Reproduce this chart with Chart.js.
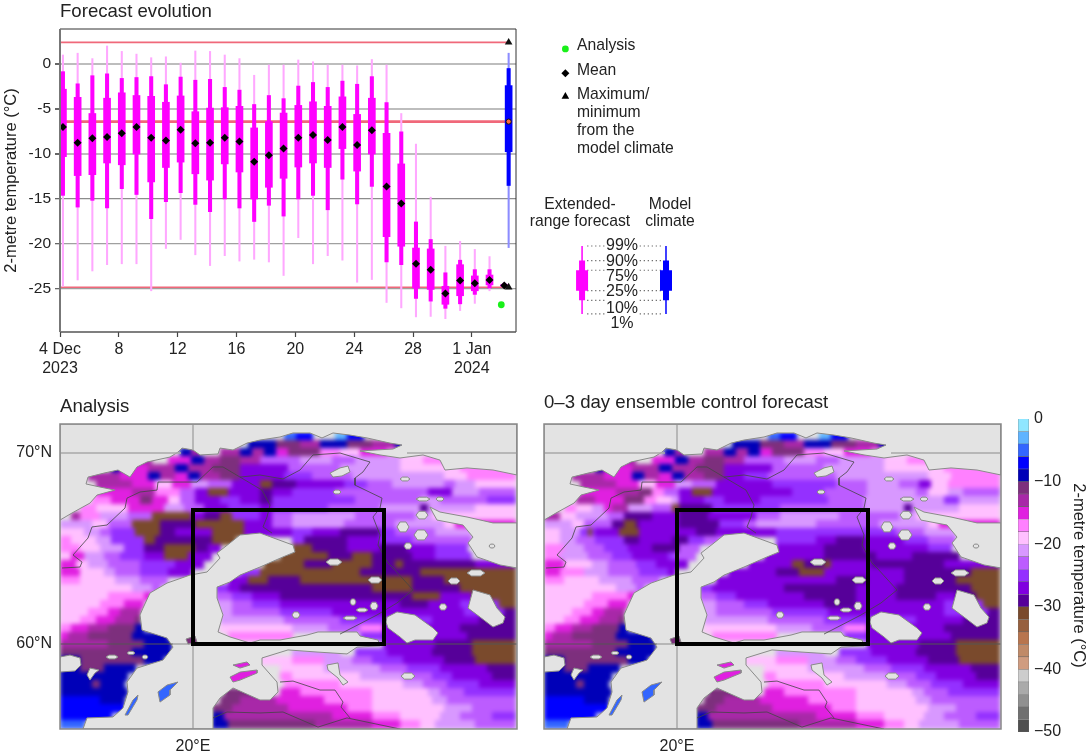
<!DOCTYPE html>
<html lang="en">
<head>
<meta charset="UTF-8">
<title>Forecast evolution</title>
<script src="https://cdn.jsdelivr.net/npm/chart.js"></script>
<style>
  body { margin: 0; background: #fff; width: 1090px; height: 755px; overflow: hidden; position: relative;
         font-family: "Liberation Sans", sans-serif; color: #222; }
  canvas { position: absolute; }
  .t { position: absolute; white-space: nowrap; line-height: 20px; font-size: 15.7px; }
  .h { font-size: 18.6px; }
  .c { transform: translateX(-50%); text-align: center; }
  .p { font-size: 16px; }
</style>
</head>
<body>
<canvas id="evolution" width="530" height="385" style="left:0;top:0"></canvas>
<canvas id="legendKey" width="190" height="300" style="left:540px;top:30px"></canvas>
<canvas id="analysisMap" width="530" height="340" style="left:0;top:415px"></canvas>
<canvas id="controlMap" width="530" height="340" style="left:484px;top:415px"></canvas>
<canvas id="colourBar" width="90" height="345" style="left:1000px;top:405px"></canvas>

<div class="t h" style="left:60px;top:1px">Forecast evolution</div>
<div class="t h" style="left:60px;top:396px">Analysis</div>
<div class="t h" style="left:544px;top:392px">0–3 day ensemble control forecast</div>

<div class="t" style="left:577px;top:35px">Analysis</div>
<div class="t" style="left:577px;top:60px">Mean</div>
<div class="t" style="left:577px;top:84px">Maximum/</div>
<div class="t" style="left:577px;top:102px">minimum</div>
<div class="t" style="left:577px;top:120px">from the</div>
<div class="t" style="left:577px;top:138px">model climate</div>
<div class="t c" style="left:580px;top:194px">Extended-</div>
<div class="t c" style="left:580px;top:211px">range forecast</div>
<div class="t c" style="left:670px;top:194px">Model</div>
<div class="t c" style="left:670px;top:211px">climate</div>
<div class="t c p" style="left:622px;top:235px">99%</div>
<div class="t c p" style="left:622px;top:251px">90%</div>
<div class="t c p" style="left:622px;top:266px">75%</div>
<div class="t c p" style="left:622px;top:281px">25%</div>
<div class="t c p" style="left:622px;top:298px">10%</div>
<div class="t c p" style="left:622px;top:313px">1%</div>

<script>
// forecast evolution: one value per day from 4 Dec 2023, percentiles in degC
const p99  = [1.0, 1.2, 0.6, 2.0, 1.4, 1.1, 0.7, 0.8, 0.1, 1.45, 1.4, 1.0, 0.6, -1.25, 0, 0, 0.45, 0.25, 0, 0, -0.2, 0.5, 0, -5.5, -8.9, -14.8, -20.25, -19.7, -20.6, -21.4, -24.25];
const p90  = [-0.85, -2.2, -1.3, -1.1, -1.6, -1.5, -1.4, -2.3, -1.45, -1.8, -1.7, -2.6, -2.9, -4.5, -3.5, -3.85, -2.45, -2.05, -2.6, -1.9, -2.25, -1.4, -4.3, -7.55, -17.55, -19.5, -23.2, -21.8, -22.85, -22.85, -24.4];
const p75  = [-2.8, -3.7, -5.5, -3.8, -3.2, -3.5, -3.6, -4.25, -3.55, -5.3, -4.9, -4.85, -4.7, -7.1, -6.4, -5.45, -4.6, -4.2, -4.7, -3.65, -5.6, -3.8, -7.7, -11.1, -20.45, -20.55, -24.7, -22.3, -23.55, -23.45, -24.5];
const p25  = [-10.3, -12.4, -12.3, -11, -11.2, -10, -13.1, -11.5, -10.9, -12.2, -12.9, -11.1, -12, -15, -13.7, -12.7, -11.45, -11, -11.5, -9.4, -11.9, -10, -19.2, -20.25, -24.9, -25.05, -26.7, -25.75, -25.2, -24.55, -24.7];
const p10  = [-14.6, -15.9, -15.15, -16, -13.85, -14.5, -17.2, -15.3, -14.3, -15.6, -16.4, -15, -16, -17.5, -15.7, -16.9, -15, -14.6, -16.2, -12.8, -15.55, -13.6, -22, -22.3, -26.05, -26.35, -27.15, -26.65, -25.6, -24.9, -24.8];
const p01  = [-24.7, -24, -23, -22.3, -22.2, -22.2, -25.2, -20.5, -19.5, -21.2, -22.4, -21.3, -21.9, -21.7, -22, -23.5, -19.3, -22.2, -21.3, -21.8, -24.25, -23.95, -26.5, -27.1, -28.1, -28.05, -28.3, -27.4, -26.6, -25.2, -24.9];
const meanTemp = [-7, -8.75, -8.25, -8.1, -7.7, -7, -8.2, -8.5, -7.3, -8.8, -8.75, -8.2, -8.6, -10.85, -10.15, -9.4, -8.2, -7.9, -8.45, -7, -9, -7.35, -13.6, -15.5, -22.2, -22.85, -25.5, -24.05, -24.35, -24, -24.6];
const climate = { p99: 1.2, p90: -0.5, p75: -2.4, p25: -9.75, p10: -13.5, p01: -20.4 };
const climateMean = -6.4, climateMax = 2.4, climateMin = -24.8;
const analysisValue = -26.75;
const dayTicks = [0, 4, 8, 12, 16, 20, 24, 28];
const dayLabels = [['4 Dec', '2023'], '8', '12', '16', '20', '24', '28', ['1 Jan', '2024']];
const tempTicks = [0, -5, -10, -15, -20, -25];

// colour bands of the maps, 2 degC wide from 0 down to -50
const bandColours = ['#8fe6ff', '#5fb4ff', '#3366ff', '#0000ff', '#0000b8', '#7d2f7d', '#a828a8', '#e020e0', '#ff80ff', '#ffc0ff',
  '#d898ff', '#bc5cff', '#9430ff', '#8000e0', '#560099', '#7a4a2c', '#97603e', '#b8754e', '#c08a68', '#d09c80',
  '#cdcdcd', '#aaaaaa', '#909090', '#707070', '#505050'];
const bandCodes = 'abcdefghijklmnopqrstuvwxy';
const barTicks = [0, -10, -20, -30, -40, -50];

// map field, run length coded per row from 71.52N down, a-y = band, . = no land value
const analysisRows = [
  '114.',
  '56. 3c 4d 6. 3b 4d 38.',
  '47. 3e 4e 6f 5g 7e 6f 6g 7e 23.',
  '30. 3e 2g 5. 5g 3e 3g 3e 3h 8f 5i 5j 7h 4i 28.',
  '19. 4g 4. 6h 3e 4g 5f 5g 10l 8k 6l 11k 6j 5i 18.',
  '13. 2e 7h 7g 3e 6g 7f 5n 7n 13l 15k 15j 14i',
  '7. 8g 7h 3e 4g 3h 3e 5g 5f 5n 6n 7m 10l 23k 6j 12i',
  '9. 9g 6h 4j 5h 4k 6l 7n 3p 6o 12n 6m 6l 13k 3l 5k 10j',
  '9. 9h 6g 6i 4l 3n 5p 8n 3o 5n 11m 23l 6n 7k 9l',
  '8. 5i 7h 3f 4h 3j 4l 6n 5m 5n 3o 21m 16l 5k 12l 7m',
  '5. 4i 8j 9h 5k 5l 6n 8m 3n 14m 13l 10k 2o 12k 10j',
  '3. 2g 5i 7k 6l 10p 3n 4o 3p 7m 3n 5l 16k 15l 4k 7j 14j',
  '8k 4j 6l 7p 9o 12p 4n 3n 5l 13k 13l 12k 3j 15h',
  '6j 4k 3l 6m 6p 4o 9n 8p 4n 8n 5m 7n 10o 4m 10l 9k 11.',
  '3i 6j 4k 8m 3p 14o 6p 14. 3m 11o 8n 8m 15l 11.',
  '5i 5j 6k 5m 5o 8p 3o 3n 18. 5p 9o 8n 7o 7n 8m 12.',
  '3j 3h 5k 4l 6m 5n 6p 6n 17. 12p 6o 5p 10o 6n 9m 11.',
  '4h 3j 5k 8l 9m 7n 15. 10p 7o 10p 6o 2p 18o 10n',
  '5h 6j 3k 6l 7m 6n 12. 5m 25p 15o 24p',
  '5i 9j 6k 7l 15. 5n 5p 8o 28p 8o 18p',
  '18j 5k 2l 14. 3m 3n 33o 10p 12o 14p',
  '12j 9i 2h 16. 4l 5m 7n 33o 7p 8n 11p',
  '10j 6i 5h 18. 4k 5l 7m 30n 7o 8n 10m 4p',
  '7j 5i 3h 5g 20. 3k 12l 13m 33n 10m 3o',
  '5j 4i 5h 5g 1f 20. 16k 14l 23m 12n 9o',
  '3i 4h 5g 7f 2e 19. 18j 9k 8l 6i 19n 14o',
  '2h 5g 11f 9e 15. 16i 17. 6m 21n 12o',
  '12g 9f 7e 53. 13n 9o 11p',
  '18f 10e 30. 12k 4. 8m 11n 10o 11p',
  '5e 16f 5e 24. 8j 8i 7k 5l 8m 10n 8o 10p',
  '5e 6f 8e 36. 11j 14k 7l 8m 12n 7o',
  '17e 38. 3i 17j 11k 7l 5m 10n 6o',
  '8e 2f 6e 40. 14i 16j 5k 6l 8m 9n',
  '17e 24. 9f 2g 3. 5h 18i 14j 3k 6l 13m',
  '10d 6e 24. 5f 9g 12h 12i 15j 4k 17l',
  '16d 22. 5f 14g 15h 6i 18j 7k 11l',
  '13d 25. 3e 27g 10h 7i 10j 5k 8l 6m',
  '6c 32. 4e 22f 14g 7h 5i 4j 10k 10l'
];
const controlRows = [
  '114.',
  '56. 3c 4d 6. 3b 4d 38.',
  '47. 3e 4e 6f 5g 7e 6f 6g 7e 23.',
  '30. 3e 2g 5. 5g 3e 3g 3e 3h 8f 5i 5j 7h 4i 28.',
  '19. 4g 4. 6h 3e 4g 5f 5g 10l 8k 6l 11k 6j 5i 18.',
  '13. 2e 7h 7g 3e 6g 7f 5n 7n 13l 15k 15j 14i',
  '7. 8g 7h 3e 4g 3h 3e 5g 5f 5n 6m 7l 10l 23k 6j 12i',
  '9. 9g 6h 4j 5h 4k 6l 7n 7n 16m 8l 8k 5l 3n 4j 13i',
  '9. 9h 6g 3f 3i 4l 3n 5p 8n 12n 8m 11l 12k 3l 5j 4k 9l',
  '8. 5g 7h 5f 3i 4j 2k 6n 5m 5n 4n 17m 9l 20k 4m 10k',
  '5. 3i 4j 3k 2h 4g 6k 5l 2p 8o 8m 9m 21l 10k 2o 12k 10j',
  '4g 4j 8k 4l 7o 7n 7o 12n 6l 15k 15l 4k 7j 14j',
  '7k 3j 7l 3o 3p 1o 10n 10o 6m 3l 15k 16l 12k 3j 15h',
  '4j 5k 2m 1p 1m 6n 5p 14n 5o 15n 7m 15m 8m 7l 8k 11.',
  '4j 4k 5l 7m 4o 8n 4o 4m 4l 14. 10m 5n 7o 10n 6m 7l 11.',
  '5i 5k 5l 6m 6n 7o 5l 19. 4n 8n 10o 16n 6m 12.',
  '4i 7k 6l 5m 9n 2m 5l 17. 3n 12n 13o 9n 12o 10.',
  '5h 7j 4k 7l 5m 8n 15. 7n 4n 3p 5o 2p 10n 18o 14n',
  '4h 6i 6k 8l 7m 2n 13. 12n 6o 6p 11n 9n 17o 7p',
  '5i 9j 8k 7l 14. 22n 8n 8o 9n 13o 11p',
  '18j 5k 2l 14. 3m 18n 18o 10n 19o 7p',
  '12j 9i 2h 16. 4l 5m 17n 13o 10n 10o 5n 5o 6p',
  '10j 6i 5h 18. 4k 7l 6m 14n 8o 22n 10m 4p',
  '7j 5i 3h 5g 20. 3k 14l 14m 29n 11m 3o'
].concat(analysisRows.slice(24));

// coast and lakes as lon,lat pairs
const northSea = [13.35,71.52, 36.2,71.52, 36.2,68.85, 35,69.11, 33.7,69.22, 32.6,69.11, 32.35,69.63, 31.5,69.9, 30.35,69.74, 29.35,69.9, 28.35,70.11, 30,70.21, 30.45,70.42, 29.85,70.52, 28.7,70.79, 27.85,70.94, 27,71.05, 26.45,70.79, 25.85,71.05, 25,71.05, 24.35,70.84, 23.35,70.68, 22.7,70.52, 22,70.16, 21.35,70.26, 21.25,69.95, 20.35,69.9, 20,70.16, 19.45,70.26, 19.25,70.05, 18.85,69.79, 17.7,69.53, 17.2,69.27, 16.85,68.74, 16.25,69.11, 15.55,68.95, 14.75,68.74, 14.65,68.38, 15.35,68.22, 16.1,68.06, 15.2,67.8, 14.85,67.38, 13.95,66.86, 13.35,66.49];
const whiteSea = [36.2,66.34, 35,66.34, 33.7,66.65, 32.35,66.91, 31.85,67.17, 32,66.86, 32.2,66.49, 33.5,66.23, 34,65.6, 33.75,65.29, 34.2,64.56, 35.35,64.14, 36.2,63.98];
const baltic = [23.35,65.81, 22.35,65.71, 21.85,65.29, 21.2,64.76, 21.35,64.5, 20.7,63.77, 19.85,63.61, 18.7,63.19, 17.85,62.67, 17.5,61.88, 17.35,61.52, 17.45,60.73, 18.7,60.31, 19,59.84, 18.5,59.16, 17.2,58.74, 16.7,58.01, 16.75,57.49, 16.5,56.65, 16,56.18, 14.7,56.13, 14.5,55.55, 21,55.55, 21,56.65, 21.35,57.17, 22,57.7, 23.35,57.07, 23.85,57.07, 24.25,57.49, 24.2,58.01, 23.45,58.9, 23.45,59.27, 24.75,59.69, 26.2,59.58, 27.7,59.48, 28.2,59.84, 29.35,59.9, 29.25,60.21, 28.35,60.42, 28.2,60.63, 26.25,60.63, 25.7,60.47, 24.35,60.21, 23.35,60.21, 22.85,60.05, 21.85,60.37, 21.25,60.63, 21.5,61.52, 21.2,62.41, 21.2,62.98, 21.85,63.25, 22.35,63.61, 23.35,64.03, 24.5,64.56, 25.1,64.82, 25,65.18];
const bigLakes = [
  [29.7,61.41, 30.2,61.68, 31.1,61.52, 32,60.84, 32.25,60.58, 32,60.21, 31.1,60.21, 30.7,60.05, 30.35,60.37, 29.75,60.84, 29.65,61.15],
  [33.75,61.88, 34,62.83, 34.85,62.57, 35.2,61.88, 35.6,61.41, 35.5,61.1, 35,60.89, 34.35,61.41],
  [13.35,59.32, 13.85,59.42, 14.35,59.27, 14.4,58.9, 14.1,58.59, 13.35,58.53],
  [14.7,58.38, 14.85,58.74, 15.3,58.64, 15.1,58.48, 14.85,58.11],
  [26.85,68.95, 27.35,69.22, 27.75,69.32, 27.85,69.01, 27.45,68.8, 27,68.74],
  [26.7,58.9, 27.25,59.01, 27.35,58.38, 27.75,58.01, 27.5,57.85, 27.25,58.22, 26.75,58.64]
];
// centre lon, centre lat, half width, half height
const smallLakes = [[30.6,68.64,.25,.1],[27.2,67.96,.2,.1],[31.5,67.59,.35,.1],[32.35,67.59,.2,.1],[31.45,66.75,.3,.2],[30.5,66.13,.3,.26],[31.4,65.71,.35,.26],[30.75,65.13,.2,.16],[27.05,64.29,.4,.16],[29.1,63.35,.35,.16],[34.15,63.72,.45,.16],[33.05,63.3,.3,.16],[32.5,61.94,.2,.16],[25.15,61.52,.2,.16],[28,62.2,.15,.16],[28.45,61.78,.3,.1],[29.05,61.99,.2,.2],[27.85,61.36,.35,.1],[30.75,58.32,.35,.16],[34.95,65.13,.15,.1],[15.95,59.32,.3,.1],[16.9,59.53,.2,.08],[17.6,59.32,.15,.1]];
// islands: band temperature, then lon,lat pairs
const islands = [
  [-5, 18.25,57.49, 18.7,57.85, 19.25,58.01, 18.85,57.59, 18.85,57.33, 18.35,56.96],
  [-5, 16.6,56.28, 17,57.07, 17.25,57.33, 17.2,57.07, 16.75,56.28],
  [-15, 21.85,58.27, 22.35,58.53, 23.2,58.64, 23.2,58.48, 22.35,58.11, 22,58.01],
  [-15, 22,58.9, 22.7,59.06, 22.85,58.9, 22.35,58.74],
  [-11, 19.65,60.26, 20.1,60.42, 20.2,60.1, 19.75,60]
];
const borders = [
  [13.45,63.98, 14.35,64.03, 14.45,64.29, 14,64.66, 14.75,65.55, 14.95,66.13, 15.7,66.23, 16.6,67.12, 16.7,67.64, 17.35,67.96, 18.2,68.06, 18.25,68.48, 19.2,68.48, 20.2,68.48, 21,69.27, 21.5,69.27, 22.35,68.74, 23.35,68.85],
  [23.35,68.85, 24.5,68.64, 25.35,69.11, 26,69.9, 27.35,70, 28.85,69.53, 28.5,69.01, 28.1,68.69, 28.1,68.32, 29.45,67.64, 29.35,67.12, 29,66.65, 29.35,65.71, 29.25,65.18, 29.75,64.24, 30,63.98, 31,62.83, 30.2,62.15, 29.2,61.52, 27.35,60.52],
  [22.35,68.74, 23.45,68.06, 23.85,67.28, 23.7,66.65, 23.5,66.13, 23.95,65.81],
  [24.35,58.01, 25,58.06, 26.35,57.59, 27.1,57.59, 27.5,56.96, 27.4,56.7, 27.85,56.13],
  [21,56.13, 21.7,56.44, 23.35,56.39, 24.5,56.44, 26.25,55.65, 27.7,56.13, 30.35,55.55]
];
const seaGrid = [[13.35,70, 19.4,70], [30.7,70, 36.2,70], [20,71.52, 20,70.16], [20,60, 20,55.55], [19,60, 29.55,60]];
const landGrid = [[13.35,60, 19,60], [29.55,60, 36.2,60]];
const targetBox = [20,67.02, 29.55,67.02, 29.55,60, 20,60, 20,67.02];
const mapExtent = { lonMin: 13.35, lonMax: 36.2, latMin: 55.55, latMax: 71.52 };
const cellLon = 0.2, cellLat = 0.419;

Chart.defaults.font.family = '"Liberation Sans", sans-serif';
Chart.defaults.color = '#222';
Chart.defaults.animation = false;
Chart.defaults.responsive = false;
Chart.defaults.devicePixelRatio = 1;
Chart.defaults.plugins.legend.display = false;
Chart.defaults.plugins.tooltip.enabled = false;

function pairs(flat) {
  const pts = [];
  for (let i = 0; i + 1 < flat.length; i += 2) pts.push({ x: flat[i], y: flat[i + 1] });
  return pts;
}

function lineSet(pts, colour, width, extra) {
  return Object.assign({ type: 'scatter', data: pts, showLine: true, pointRadius: 0, borderColor: colour, borderWidth: width, tension: 0 }, extra);
}

function floatBars(lo, hi, colour, thick) {
  return {
    type: 'bar', grouped: false, barThickness: thick, backgroundColor: colour, borderWidth: 0,
    data: lo.map((v, i) => ({ x: i + 0.2, y: [v, hi[i]] }))
  };
}

function climateBar(lo, hi, colour, thick) {
  return { type: 'bar', grouped: false, barThickness: thick, backgroundColor: colour, borderWidth: 0, data: [{ x: 30.5, y: [lo, hi] }] };
}

const redLine = (v, w) => lineSet([{ x: 0, y: v }, { x: 30.5, y: v }], '#f0687a', w);

// first dataset in the list is painted last
new Chart(document.getElementById('evolution'), {
  type: 'bar',
  data: {
    datasets: [
      { type: 'scatter', data: [{ x: 30.5, y: climateMax }, { x: 30.5, y: climateMin }], pointStyle: 'triangle', pointRadius: 4.4, backgroundColor: '#111', borderWidth: 0 },
      { type: 'scatter', data: [{ x: 30.5, y: climateMean }], pointRadius: 2.6, backgroundColor: '#ff6a40', borderColor: '#111', borderWidth: 1 },
      { type: 'scatter', data: meanTemp.map((v, i) => ({ x: i + 0.2, y: v })), pointStyle: 'rectRot', pointRadius: 4, backgroundColor: '#000', borderWidth: 0 },
      { type: 'scatter', data: [{ x: 30, y: analysisValue }], pointRadius: 3.4, backgroundColor: '#19f019', borderWidth: 0 },
      climateBar(climate.p25, climate.p75, '#0000ff', 7),
      climateBar(climate.p10, climate.p90, '#0000ff', 3.4),
      climateBar(climate.p01, climate.p99, '#8c8cff', 1.4),
      floatBars(p25, p75, '#ff00ff', 7),
      floatBars(p10, p90, '#ff00ff', 3.4),
      floatBars(p01, p99, '#ffa8ff', 1.4),
      redLine(climateMax, 1.6),
      redLine(climateMean, 2.6),
      redLine(climateMin, 1.4)
    ]
  },
  options: {
    layout: { padding: { top: 29, right: 14 } },
    scales: {
      x: {
        type: 'linear', min: 0, max: 31, offset: false,
        afterBuildTicks: s => { s.ticks = dayTicks.map(v => ({ value: v })); },
        afterFit: s => { s.height = 53; s.paddingLeft = 0; s.paddingRight = 0; },
        grid: { offset: false, drawOnChartArea: false, tickLength: 5, tickColor: '#444', tickWidth: 1.2 },
        border: { display: false },
        ticks: { autoSkip: false, maxRotation: 0, padding: 3, font: { size: 16 }, callback: (v, i) => dayLabels[i] }
      },
      y: {
        min: -29.78, max: 3.89,
        afterBuildTicks: s => { s.ticks = tempTicks.map(v => ({ value: v })); },
        afterFit: s => { s.width = 60; s.paddingTop = 0; s.paddingBottom = 0; },
        grid: {
          tickLength: 5, tickColor: '#666',
          color: c => (c.tick.value > -15 ? '#bdbdbd' : c.tick.value === -15 ? '#8c8c8c' : '#a0a0a0'),
          lineWidth: c => (c.tick.value > -15 ? 2 : 1.3)
        },
        border: { display: false },
        ticks: { padding: 4, font: { size: 15.5 } },
        title: { display: true, text: '2-metre temperature (°C)', font: { size: 16.5 }, padding: { top: 2, bottom: 0 } }
      }
    }
  },
  plugins: [{
    id: 'frame',
    afterDatasetsDraw(chart) {
      const { left, right, top, bottom } = chart.chartArea, ctx = chart.ctx;
      const side = (x0, y0, x1, y1, c, w) => { ctx.strokeStyle = c; ctx.lineWidth = w; ctx.beginPath(); ctx.moveTo(x0, y0); ctx.lineTo(x1, y1); ctx.stroke(); };
      side(left, top, right, top, '#333', 1);
      side(right, top, right, bottom, '#333', 1);
      side(right, bottom, left, bottom, '#555', 1.5);
      side(left, bottom, left, top, '#777', 2);
    }
  }]
});

// legend symbols, in a key space the size of the canvas
const keyLevels = { p99: 248, p90: 263, p75: 273, p25: 294, p10: 304, p01: 318 };
const keyDots = [[585, 605], [640, 665]];
const keySets = [
  { type: 'scatter', data: [{ x: 562, y: 45 }], pointRadius: 3.4, backgroundColor: '#19f019', borderWidth: 0 },
  { type: 'scatter', data: [{ x: 562, y: 70 }], pointStyle: 'rectRot', pointRadius: 4, backgroundColor: '#000', borderWidth: 0 },
  { type: 'scatter', data: [{ x: 562, y: 94 }], pointStyle: 'triangle', pointRadius: 4.4, backgroundColor: '#000', borderWidth: 0 }
];
[[579.5, '#ff00ff'], [667.5, '#0000ff']].forEach(([x, c]) => {
  keySets.push(lineSet([{ x, y: keyLevels.p75 }, { x, y: keyLevels.p25 }], c, 12));
  keySets.push(lineSet([{ x, y: keyLevels.p90 }, { x, y: keyLevels.p10 }], c, 6));
  keySets.push(lineSet([{ x, y: keyLevels.p99 }, { x, y: keyLevels.p01 }], c, 1.5));
});
Object.values(keyLevels).forEach(y => keyDots.forEach(d => {
  keySets.push(lineSet([{ x: d[0], y }, { x: d[1], y }], '#444', 1.2, { borderDash: [1, 3] }));
}));
new Chart(document.getElementById('legendKey'), {
  type: 'scatter',
  data: { datasets: keySets },
  options: {
    scales: {
      x: { display: false, min: 540, max: 730 },
      y: { display: false, min: 30, max: 330, reverse: true }
    }
  }
});

function bandColour(code) { return bandColours[bandCodes.indexOf(code)]; }
function colourOfTemp(t) { return bandColours[Math.min(24, Math.floor(-t / 2))]; }

function decodeRow(row) {
  const out = [];
  for (const m of row.matchAll(/(\d+)([a-y.])/g)) out.push([Number(m[1]), m[2]]);
  return out;
}

function makeMap(id, rows, showLat) {
  const seaColour = '#e3e3e3', coast = '#8a8a8a', grey = '#a9a9a9';
  // painted bottom up, reversed below
  const painted = [];
  const polys = [northSea, whiteSea, baltic].concat(bigLakes).concat(smallLakes.map(([lon, lat, w, h]) => [
    lon - w, lat, lon - w / 2, lat + h, lon + w / 2, lat + h, lon + w, lat, lon + w / 2, lat - h, lon - w / 2, lat - h
  ]));
  polys.forEach(p => {
    const pts = pairs(p);
    pts.push(pts[0]);
    painted.push(lineSet(pts, coast, 1, { fill: 'shape', backgroundColor: seaColour }));
  });
  seaGrid.forEach(g => painted.push(lineSet(pairs(g), grey, 1.5)));
  islands.forEach(i => {
    const pts = pairs(i.slice(1));
    pts.push(pts[0]);
    painted.push(lineSet(pts, coast, 1, { fill: 'shape', backgroundColor: colourOfTemp(i[0]) }));
  });
  borders.forEach(b => painted.push(lineSet(pairs(b), '#444', 0.8)));
  landGrid.forEach(g => painted.push(lineSet(pairs(g), '#555', 1)));
  painted.push(lineSet(pairs(targetBox), '#000', 4, { borderJoinStyle: 'miter', borderCapStyle: 'square' }));

  new Chart(document.getElementById(id), {
    type: 'scatter',
    data: { datasets: painted.reverse() },
    options: {
      layout: { padding: { top: 9, right: 13 } },
      scales: {
        x: {
          min: mapExtent.lonMin, max: mapExtent.lonMax,
          afterBuildTicks: s => { s.ticks = [{ value: 20 }]; },
          afterFit: s => { s.height = 26; s.paddingLeft = 0; s.paddingRight = 0; },
          grid: { display: false, drawTicks: false }, border: { display: false },
          ticks: { padding: 8, font: { size: 16 }, maxRotation: 0, callback: v => v + '°E' }
        },
        y: {
          min: mapExtent.latMin, max: mapExtent.latMax,
          afterBuildTicks: s => { s.ticks = [{ value: 60 }, { value: 70 }]; },
          afterFit: s => { s.width = 60; s.paddingTop = 0; s.paddingBottom = 0; },
          grid: { display: false, drawTicks: false }, border: { display: false },
          ticks: { display: showLat, padding: 8, font: { size: 16 }, callback: v => v + '°N' }
        }
      }
    },
    plugins: [{
      id: 'tempField',
      beforeDatasetsDraw(chart) {
        const { x, y } = chart.scales, a = chart.chartArea, ctx = chart.ctx;
        // cells go on a scratch canvas first so the soft edge is applied once
        const scratch = document.createElement('canvas');
        scratch.width = chart.width;
        scratch.height = chart.height;
        const sc = scratch.getContext('2d');
        rows.forEach((row, r) => {
          const y0 = y.getPixelForValue(mapExtent.latMax - r * cellLat);
          const y1 = y.getPixelForValue(mapExtent.latMax - (r + 1) * cellLat);
          let col = 0;
          decodeRow(row).forEach(([n, code]) => {
            if (code !== '.') {
              const x0 = x.getPixelForValue(mapExtent.lonMin + col * cellLon);
              const x1 = x.getPixelForValue(mapExtent.lonMin + (col + n) * cellLon);
              sc.fillStyle = bandColour(code);
              sc.fillRect(Math.floor(x0), Math.floor(y0), Math.ceil(x1) - Math.floor(x0), Math.ceil(y1) - Math.floor(y0));
            }
            col += n;
          });
        });
        ctx.save();
        ctx.beginPath();
        ctx.rect(a.left, a.top, a.width, a.height);
        ctx.clip();
        ctx.fillStyle = seaColour;
        ctx.fillRect(a.left, a.top, a.width, a.height);
        ctx.filter = 'blur(2.2px)';
        ctx.drawImage(scratch, 0, 0);
        ctx.restore();
      },
      afterDatasetsDraw(chart) {
        const a = chart.chartArea, ctx = chart.ctx;
        ctx.strokeStyle = '#888';
        ctx.lineWidth = 1.5;
        ctx.strokeRect(a.left, a.top, a.width, a.height);
      }
    }]
  });
}

makeMap('analysisMap', analysisRows, true);
makeMap('controlMap', controlRows, false);

// colour bar, one floating bar per band
new Chart(document.getElementById('colourBar'), {
  type: 'bar',
  data: {
    labels: [''],
    datasets: bandColours.map((c, i) => ({
      grouped: false, data: [[-2 * i - 2, -2 * i]], backgroundColor: c, borderColor: '#666', borderWidth: 0.6,
      categoryPercentage: 1, barPercentage: 1
    }))
  },
  options: {
    layout: { padding: { left: 18, top: 14, bottom: 18 } },
    scales: {
      x: { display: false },
      y: {
        position: 'right', min: -50, max: 0,
        afterBuildTicks: s => { s.ticks = barTicks.map(v => ({ value: v })); },
        afterFit: s => { s.width = 61; s.paddingTop = 0; s.paddingBottom = 0; },
        grid: { display: false, drawTicks: false }, border: { display: false },
        ticks: { padding: 5, font: { size: 16 }, callback: v => (v < 0 ? '−' + (-v) : String(v)) },
        title: { display: true, text: '2-metre temperature (°C)', font: { size: 16.5 }, padding: { top: 2, bottom: 0 } }
      }
    }
  }
});
</script>
</body>
</html>
